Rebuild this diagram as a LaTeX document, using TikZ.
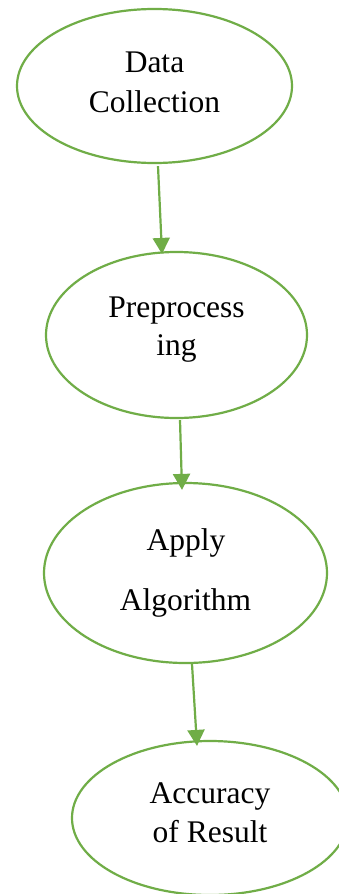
\documentclass[tikz,border=0pt]{standalone}
\usepackage{fontspec}
\setmainfont{Liberation Serif}
\usetikzlibrary{shapes.geometric,arrows.meta}
\definecolor{grn}{HTML}{70AD47}
\tikzset{
  oval/.style={ellipse,draw=grn,line width=2.2pt,inner sep=0pt,fill=white},
  lbl/.style={font=\fontsize{31.5}{38}\selectfont,anchor=base,inner sep=0pt},
  conn/.style={draw=grn,line width=2.2pt,-{Triangle[width=17pt,length=16pt]}}
}
\begin{document}
\begin{tikzpicture}[x=1pt,y=-1pt]
\useasboundingbox[fill=white] (0,0) rectangle (339,894);
\node[oval,minimum width=275pt,minimum height=154pt] (e1) at (154.5,86) {};
\node[oval,minimum width=261pt,minimum height=166pt] (e2) at (176.5,335) {};
\node[oval,minimum width=283pt,minimum height=180pt] (e3) at (185.5,573) {};
\node[oval,minimum width=276pt,minimum height=154pt] (e4) at (210,818) {};
\node[lbl] (t1a) at ([yshift=14pt]e1.center) {Data};
\node[lbl] (t1b) at ([yshift=-26pt]e1.center) {Collection};
\node[lbl] (t2a) at ([yshift=18pt]e2.center) {Preprocess};
\node[lbl] (t2b) at ([yshift=-20pt]e2.center) {ing};
\node[lbl] (t3a) at ([xshift=0.5pt,yshift=23pt]e3.center) {Apply};
\node[lbl] (t3b) at ([yshift=-37pt]e3.center) {Algorithm};
\node[lbl] (t4a) at ([yshift=15pt]e4.center) {Accuracy};
\node[lbl] (t4b) at ([yshift=-24pt]e4.center) {of Result};
\draw[conn] ([xshift=3.5pt,yshift=-2pt]e1.south) -- ([xshift=-14.5pt,yshift=-3pt]e2.north);
\draw[conn] ([xshift=3.5pt,yshift=-1pt]e2.south) -- ([xshift=-3.5pt,yshift=-8pt]e3.north);
\draw[conn] ([xshift=6.5pt]e3.south) -- ([xshift=-13pt,yshift=-6pt]e4.north);
\end{tikzpicture}
\end{document}
